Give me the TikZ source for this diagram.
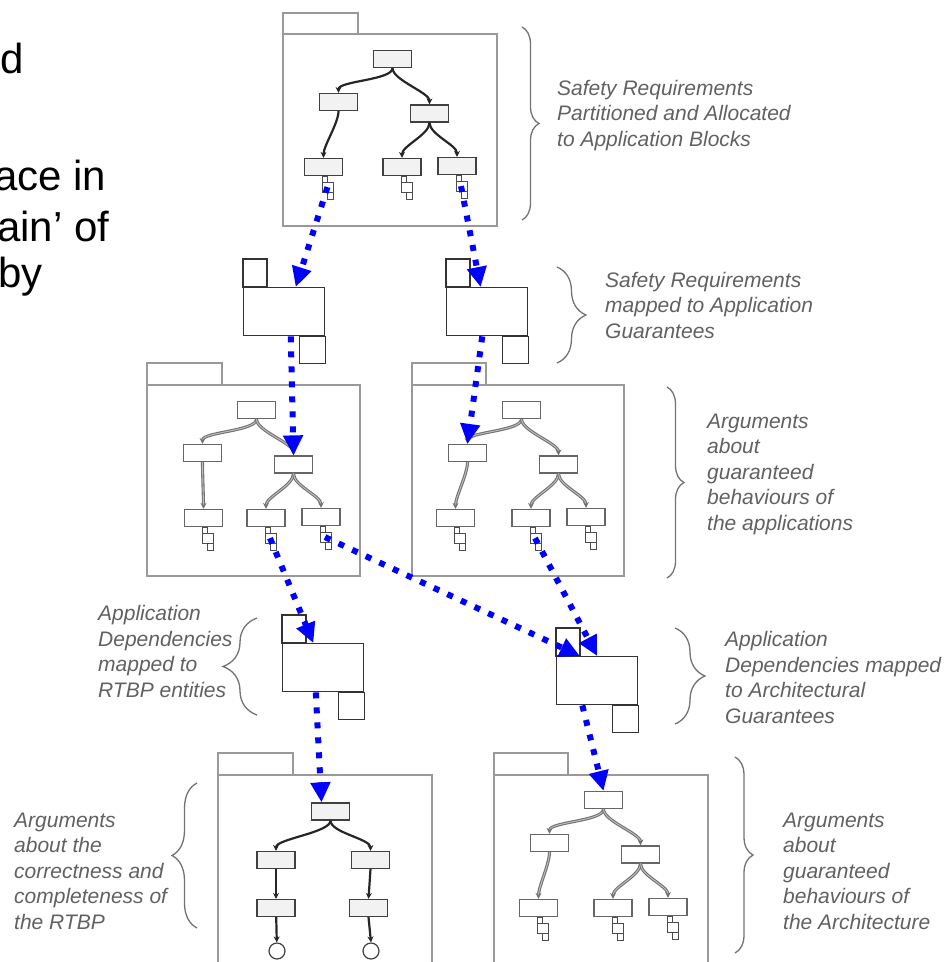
\documentclass[tikz,border=0pt]{standalone}
\usepackage{fontspec}
\setmainfont{Liberation Sans}
\usetikzlibrary{arrows.meta,calc,decorations.pathreplacing}
\tikzset{>=latex}
\tikzstyle{goal}=[rectangle,draw=black!75,fill=black!5,line width=1.2pt,minimum width=38pt,minimum height=17pt,inner sep=0pt]
\tikzstyle{goalw}=[rectangle,draw=black!60,fill=white,line width=1.2pt,minimum width=38pt,minimum height=17pt,inner sep=0pt]
\tikzstyle{sol}=[circle,draw=black!75,fill=white,line width=1.2pt,minimum size=16pt,inner sep=0pt]
\tikzstyle{blackedge}=[draw=black!85,line width=2.2pt,-{Stealth[length=6pt,width=6pt]}]
\tikzstyle{grayedge}=[draw=black!55,double=black!25,double distance=0.9pt,line width=1.1pt,-{Stealth[length=6pt,width=6pt]}]
\tikzstyle{pkg}=[draw=black!40,line width=1.5pt]
\tikzstyle{modbody}=[rectangle,draw=black!80,line width=1.4pt,minimum width=81pt,minimum height=48pt,inner sep=0pt]
\tikzstyle{modline}=[draw=black!80,line width=1.4pt]
\tikzstyle{bluelink}=[draw=blue,line width=6pt,dash pattern=on 6pt off 9pt,-{Triangle[length=20pt,width=19pt]}]
\tikzstyle{brc}=[draw=black!55,line width=1.3pt,decorate]
\tikzstyle{remark}=[font=\fontsize{21}{25.5}\selectfont\itshape,text=black!62,align=left,inner sep=0pt,anchor=base west]
\tikzstyle{bigtxt}=[font=\fontsize{42}{48}\selectfont,inner sep=0pt,anchor=base west]

% tiny module icon hanging under a goal
\newcommand{\minimod}[1]{%
  \draw[draw=black!70,fill=white,line width=0.9pt] ($(#1.south)+(-1,0)$) rectangle +(5,6);
  \draw[draw=black!70,fill=white,line width=0.9pt] ($(#1.south)+(-1,6)$) rectangle +(11,10);
  \draw[draw=black!70,fill=white,line width=0.9pt] ($(#1.south)+(4,16)$) rectangle +(6,7);
  \coordinate (#1-m) at ($(#1.south)+(4,11)$);
}
% goal tree inside a package: prefix, x, y, box style, edge style, x of bottom left goal
\newcommand{\argtree}[6]{%
  \node[#4] (#1top) at (#2+109.5,#3+25) {};
  \node[#4] (#1ml) at (#2+55.5,#3+68) {};
  \node[#4] (#1mr) at (#2+146.5,#3+79.5) {};
  \node[#4] (#1bl) at (#2+#6,#3+133) {};
  \node[#4] (#1bm) at (#2+119,#3+133) {};
  \node[#4] (#1br) at (#2+174,#3+132) {};
  \foreach \a/\b in {top/ml,top/mr,ml/bl,mr/bm,mr/br}
    \draw[#5] (#1\a.south) .. controls +(0,12) and +(0,-12) .. (#1\b.north);
  \foreach \b in {bl,bm,br}
    \minimod{#1\b};
}
% module with tab and foot
\newcommand{\modshape}[3]{%
  \node[modbody,anchor=north west] (#1) at (#2,#3) {};
  \draw[modline] (#1.north west) rectangle +(24,-28);
  \draw[modline] (#1.south east) rectangle +(-26,27);
}

\begin{document}
\begin{tikzpicture}[x=1pt,y=-1pt]
	\useasboundingbox (0,0) rectangle (947,962);

	\node[bigtxt] (t1) at (0,73) {d};
	\node[bigtxt] (t2) at (-6,190) {ace in};
	\node[bigtxt] (t3) at (-3,241) {ain’ of};
	\node[bigtxt] (t4) at (-2,287) {by};

	% packages
	\draw[pkg] (283,13) rectangle (358,34);
	\draw[pkg] (283,34) rectangle (497,226);
	\draw[pkg] (147,363) rectangle (222,385);
	\draw[pkg] (147,385) rectangle (360,576);
	\draw[pkg] (412,363) rectangle (486,385);
	\draw[pkg] (412,385) rectangle (624,576);
	\draw[pkg] (218,753) rectangle (293,775);
	\draw[pkg] (218,970) -- (218,775) -- (432,775) -- (432,970);
	\draw[pkg] (494,753) rectangle (568,775);
	\draw[pkg] (494,970) -- (494,775) -- (708,775) -- (708,970);

	\argtree{p1}{283}{34}{goal}{blackedge}{40.5}
	\argtree{p2}{147}{385}{goalw}{grayedge}{56.5}
	\argtree{p3}{412}{385}{goalw}{grayedge}{43.5}
	\argtree{p5}{494}{775}{goalw}{grayedge}{44.5}

	\node[goal] (p4top) at (330.5,811.5) {};
	\node[goal] (p4ml) at (276,860) {};
	\node[goal] (p4mr) at (370.5,860) {};
	\node[goal] (p4ll) at (276,908) {};
	\node[goal] (p4lr) at (368.5,908) {};
	\node[sol] (p4sl) at (277,951) {};
	\node[sol] (p4sr) at (371,951) {};
	\draw[blackedge] (p4top.south) .. controls +(0,12) and +(0,-12) .. (p4ml.north);
	\draw[blackedge] (p4top.south) .. controls +(0,12) and +(0,-12) .. (p4mr.north);
	\draw[blackedge] (p4ml) -- (p4ll);
	\draw[blackedge] (p4mr.south) -- (p4lr.north);
	\draw[blackedge] (p4ll) -- (p4sl);
	\draw[blackedge] (p4lr.south) -- (p4sr.north);

	% modules
	\modshape{m1}{243}{287}
	\modshape{m2}{446}{287}
	\modshape{m3}{282}{643}
	\modshape{m4}{556}{656}

	% blue links
	\draw[bluelink] (p1bl-m) -- ($(m1.north west)!0.64!(m1.north east)$);
	\draw[bluelink] (p1br-m) -- ($(m2.north west)!0.42!(m2.north east)$);
	\draw[bluelink] ($(m1.south west)!0.58!(m1.south east)$) -- (p2mr.north);
	\draw[bluelink] ($(m2.south west)!0.44!(m2.south east)$) -- (p3ml.north);
	\draw[bluelink] (p2bm-m) -- ($(m3.north west)!0.38!(m3.north east)$);
	\draw[bluelink] (p2br-m) -- ($(m4.north west)!0.29!(m4.north east)$);
	\draw[bluelink] (p3bm-m) -- (m4.north);
	\draw[bluelink] ($(m4.south west)!0.32!(m4.south east)$) -- (p5top.north);
	\draw[bluelink] ($(m3.south west)!0.41!(m3.south east)$) -- ($(p4top.north west)!0.27!(p4top.north east)$);

	% braces and remarks
	\draw[brc,decoration={brace,amplitude=17pt}] (522,27) -- (522,220);
	\draw[brc,decoration={brace,amplitude=29pt}] (557,267) -- (557,363);
	\draw[brc,decoration={brace,amplitude=17pt}] (667,387) -- (667,578);
	\draw[brc,decoration={brace,amplitude=34pt}] (257,715) -- (257,618);
	\draw[brc,decoration={brace,amplitude=30pt}] (675,628) -- (675,724);
	\draw[brc,decoration={brace,amplitude=25pt}] (197,928) -- (197,783);
	\draw[brc,decoration={brace,amplitude=18pt}] (735,757) -- (735,953);

	\node[remark] (lab1) at (557,146) {Safety Requirements\\Partitioned and Allocated\\to Application Blocks};
	\node[remark] (lab2) at (605,338) {Safety Requirements\\mapped to Application\\Guarantees};
	\node[remark] (lab3) at (707,530) {Arguments\\about\\guaranteed\\behaviours of\\the applications};
	\node[remark] (lab4) at (98,697) {Application\\Dependencies\\mapped to\\RTBP entities};
	\node[remark] (lab5) at (725,723) {Application\\Dependencies mapped\\to Architectural\\Guarantees};
	\node[remark] (lab6) at (14,929) {Arguments\\about the\\correctness and\\completeness of\\the RTBP};
	\node[remark] (lab7) at (783,929) {Arguments\\about\\guaranteed\\behaviours of\\the Architecture};
\end{tikzpicture}
\end{document}
